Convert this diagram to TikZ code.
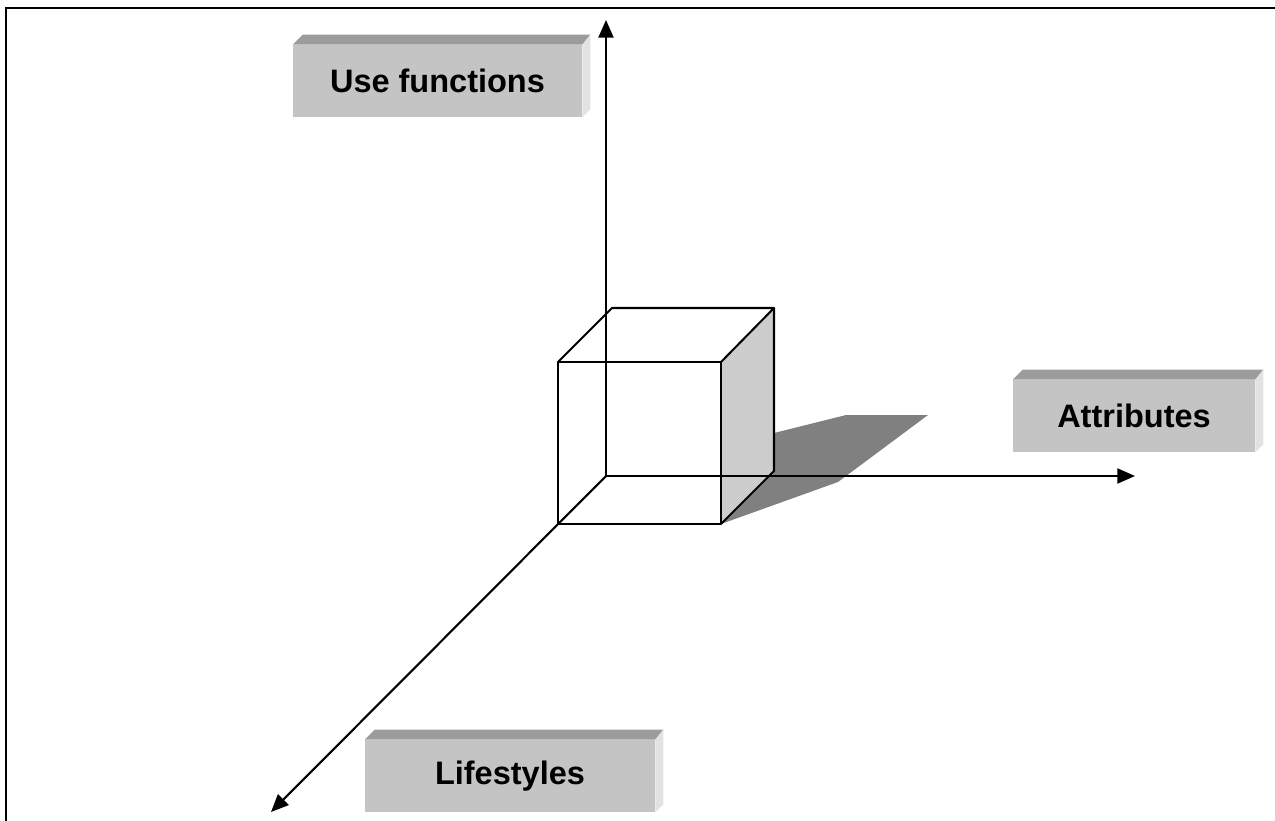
\documentclass[tikz,border=0pt]{standalone}
\usepackage{fontspec}
\newfontfamily\arialbf{Liberation Sans}
\usetikzlibrary{arrows.meta}
\definecolor{boxface}{HTML}{C4C4C4}
\definecolor{boxtop}{HTML}{9C9C9C}
\definecolor{boxside}{HTML}{E2E2E2}
\definecolor{cubeside}{HTML}{CCCCCC}
\definecolor{shadowgray}{HTML}{808080}
\tikzset{
  bbox/.style={rectangle, fill=boxface, inner sep=0pt, minimum height=1.44cm,
    font=\arialbf\bfseries\fontsize{18.5}{21}\selectfont},
  axis/.style={line width=1.2pt, -{Triangle[length=10pt,width=8.5pt]}},
  edge/.style={line width=1.15pt, line join=round},
  frameline/.style={line width=1.3pt}
}
\newcommand{\bevel}[1]{%
  \fill[boxtop] (#1.north west) -- ([shift={(10,-10)}]#1.north west) -- ([shift={(8,-10)}]#1.north east) -- (#1.north east) -- cycle;
  \fill[boxside] (#1.north east) -- ([shift={(8,-10)}]#1.north east) -- ([shift={(8,-8)}]#1.south east) -- (#1.south east) -- cycle;
}
\begin{document}
\begin{tikzpicture}[x=0.02cm,y=-0.02cm]
\useasboundingbox (0,0) rectangle (1275,821);
% frame
\draw[frameline] (6,821) -- (6,8) -- (1275,8);
% cube corners
\coordinate (ftl) at (558,362);
\coordinate (ftr) at (721,362);
\coordinate (fbr) at (721,524);
\coordinate (fbl) at (558,524);
\coordinate (btl) at (612,308);
\coordinate (btr) at (774,308);
\coordinate (bbr) at (774,471);
\coordinate (O) at (606,476);
% shadow
\fill[shadowgray] (fbr) -- (838,482) -- (928,415) -- (846,415) -- (774,433) -- (bbr) -- cycle;
% right face
\fill[cubeside] (ftr) -- (btr) -- (bbr) -- (fbr) -- cycle;
% axes
\coordinate (ytip) at (606,20);
\coordinate (xtip) at (1135,476);
\coordinate (ztip) at (271,812);
\draw[axis] (O) -- (ytip);
\draw[axis] (O) -- (xtip);
\draw[axis] (O) -- (ztip);
% cube edges
\draw[edge] (ftl) -- (ftr) -- (fbr) -- (fbl) -- cycle;
\draw[edge] (ftl) -- (btl) -- (btr) -- (ftr);
\draw[edge] (btr) -- (bbr) -- (fbr);
% label boxes
\node[bbox, minimum width=5.78cm] (uf) at (437.5,81) {Use functions};
\bevel{uf}
\node[bbox, minimum width=4.84cm] (at) at (1134,416) {Attributes};
\bevel{at}
\node[bbox, minimum width=5.8cm] (ls) at (510,776) {Lifestyles};
\bevel{ls}
\end{tikzpicture}
\end{document}
